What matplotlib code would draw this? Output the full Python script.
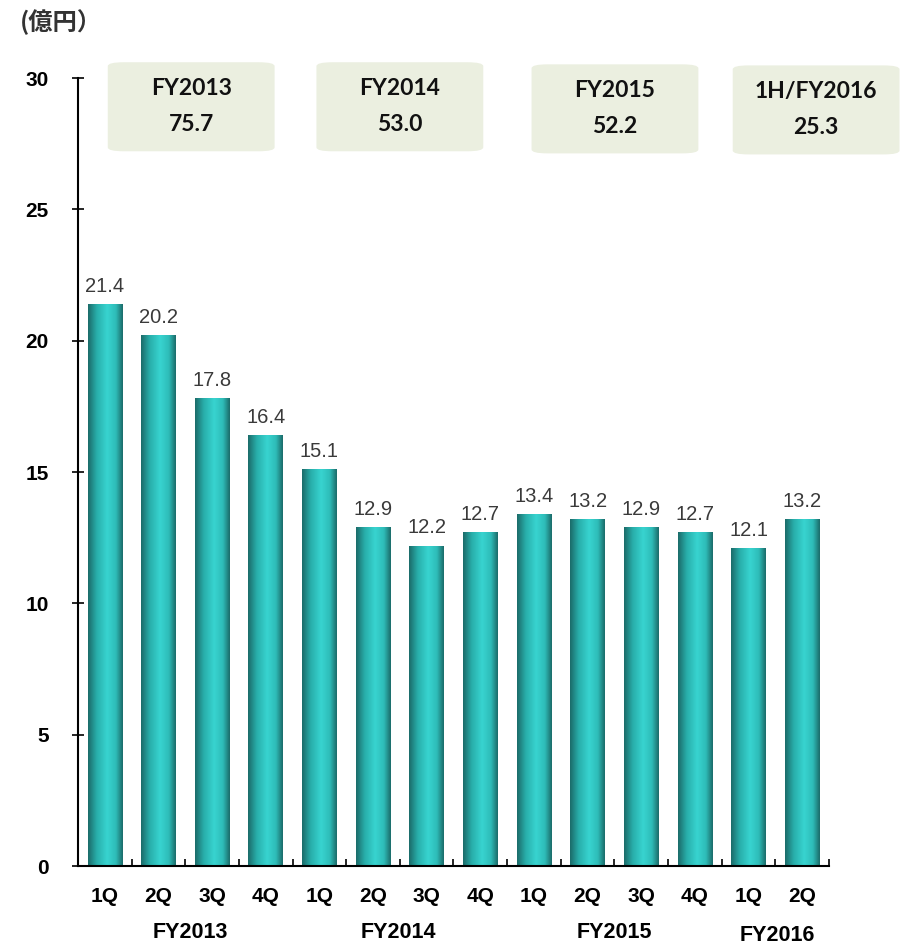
import matplotlib
matplotlib.use("Agg")
import matplotlib.pyplot as plt
import numpy as np
from matplotlib.patches import FancyBboxPatch
from matplotlib.colors import LinearSegmentedColormap

quarters = ["1Q", "2Q", "3Q", "4Q", "1Q", "2Q", "3Q", "4Q", "1Q", "2Q", "3Q", "4Q", "1Q", "2Q"]
values = [21.4, 20.2, 17.8, 16.4, 15.1, 12.9, 12.2, 12.7, 13.4, 13.2, 12.9, 12.7, 12.1, 13.2]
fiscal_years = ["FY2013", "FY2014", "FY2015", "FY2016"]
fy_label_pos = [1.59, 5.47, 9.49, 12.53]
box_titles = ["FY2013", "FY2014", "FY2015", "1H/FY2016"]
box_totals = ["75.7", "53.0", "52.2", "25.3"]
box_centers = [1.61, 5.50, 9.51, 13.26]
y_ticks = [0, 5, 10, 15, 20, 25, 30]

SANS = "Liberation Sans"

fig = plt.figure(figsize=(9, 9.44), dpi=100)
ax = fig.add_axes([78/900, 78/944, (829-78)/900, (866-78)/944])
ax.set_xlim(-0.5, 13.5)
ax.set_ylim(0, 30)

x = np.arange(len(values))
width = 0.645
bars = ax.bar(x, values, width=width, color="none", edgecolor="none", zorder=2)

cmap = LinearSegmentedColormap.from_list(
    "cyl", [(0.0, "#1b6a68"), (0.25, "#28aeaa"), (0.55, "#38d4d0"), (0.8, "#2ebcb8"), (1.0, "#1b6a68")])
grad = np.linspace(0, 1, 256).reshape(1, -1)
for b in bars:
    x0 = b.get_x()
    h = b.get_height()
    im = ax.imshow(grad, cmap=cmap, aspect="auto", extent=(x0, x0 + b.get_width(), 0, h),
                   zorder=2, interpolation="bicubic")
    im.set_clip_path(b)

for xi, v in zip(x, values):
    ax.annotate(f"{v:.1f}", (xi, v), xytext=(0, 6), textcoords="offset points",
                ha="center", va="bottom", fontsize=14.5, color="#3a3a3a", family=SANS)

ax.set_xlim(-0.5, 13.5)
ax.set_ylim(0, 30)

for s in ["top", "right"]:
    ax.spines[s].set_visible(False)
for s in ["left", "bottom"]:
    ax.spines[s].set_linewidth(1.5)
    ax.spines[s].set_color("black")

ax.set_yticks(y_ticks)
ax.set_yticklabels([str(t) for t in y_ticks], fontsize=15, fontweight="bold", family=SANS)
ax.tick_params(axis="y", direction="inout", length=8, width=1.2, pad=17)

ax.set_xticks(np.arange(0.5, 14, 1))
ax.set_xticklabels([])
ax.tick_params(axis="x", direction="in", length=5, width=1.2)

for xi, q in zip(x, quarters):
    ax.text(xi, -1.15, q, ha="center", va="center", fontsize=15, fontweight="bold",
            family=SANS, clip_on=False)
for i, (p, fy) in enumerate(zip(fy_label_pos, fiscal_years)):
    ax.text(p, -2.52 if i < 3 else -2.63, fy, ha="center", va="center", fontsize=15.5,
            fontweight="bold", family=SANS, clip_on=False)

box_tops = [30.6, 30.6, 30.52, 30.48]
for c, t, tot, top in zip(box_centers, box_titles, box_totals, box_tops):
    w = 3.11
    hgt = 3.39
    patch = FancyBboxPatch((c - w/2, top - hgt), w, hgt,
                           boxstyle="round,pad=0,rounding_size=0.3",
                           mutation_aspect=26.27/53.64,
                           facecolor="#ebefe0", edgecolor="none", clip_on=False, zorder=3)
    ax.add_patch(patch)
    ax.text(c, top - 1.0, t, ha="center", va="center", fontsize=16.5, fontweight="bold",
            family="Lato", color="#111111", clip_on=False, zorder=4)
    ax.text(c, top - 2.37, tot, ha="center", va="center", fontsize=16.5, fontweight="bold",
            family="Lato", color="#111111", clip_on=False, zorder=4)

fig.text(20/900, 1 - 22/944, "(億円）", ha="left", va="center", fontsize=17.5, fontweight="bold",
         family=["Noto Sans CJK JP", "DejaVu Sans"], color="#333333")

fig.savefig("out.png", dpi=100)
